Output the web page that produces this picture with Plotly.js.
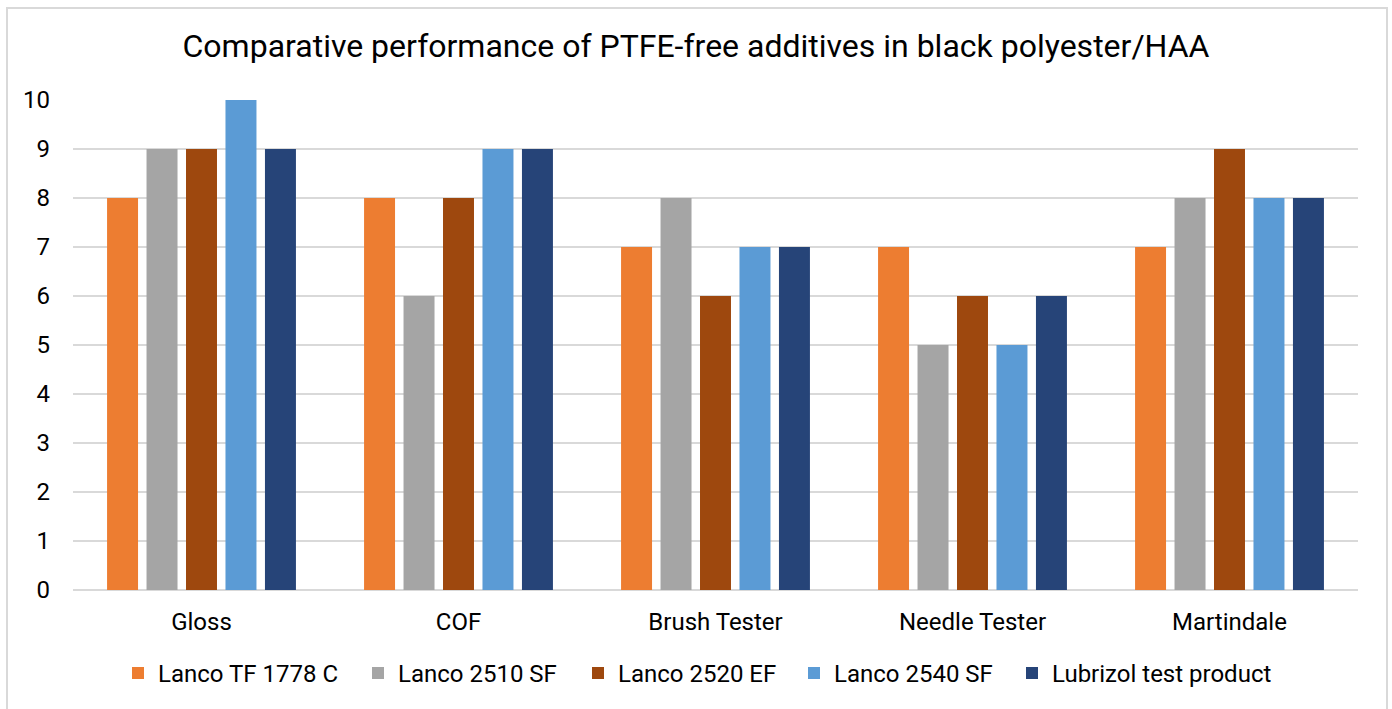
<!DOCTYPE html>
<html><head><meta charset="utf-8">
<script src="https://cdn.plot.ly/plotly-3.0.1.min.js"></script>
<style>html,body{margin:0;padding:0;background:#fff;overflow:hidden}#wrap{position:relative;width:1392px;height:709px}#chart{width:1392px;height:709px}#frame{position:absolute;left:6px;top:7px;width:1378px;height:720px;border:2px solid #d9d9d9;pointer-events:none}</style>
</head><body>
<div id="wrap"><div id="chart"></div><div id="frame"></div></div>
<script>
const categories = ["Gloss", "COF", "Brush Tester", "Needle Tester", "Martindale"];
const seriesNames = ["Lanco TF 1778 C", "Lanco 2510 SF", "Lanco 2520 EF", "Lanco 2540 SF", "Lubrizol test product"];
const lancoTF1778C = [8, 8, 7, 7, 7];
const lanco2510SF = [9, 6, 8, 5, 8];
const lanco2520EF = [9, 8, 6, 6, 9];
const lanco2540SF = [10, 9, 7, 5, 8];
const lubrizolTest = [9, 9, 7, 6, 8];
const yTicks = [0,1,2,3,4,5,6,7,8,9,10];

const colors = ["#ED7D31", "#A5A5A5", "#9E480E", "#5B9BD5", "#264478"];
const values = [lancoTF1778C, lanco2510SF, lanco2520EF, lanco2540SF, lubrizolTest];
const legendIds = ['legend', 'legend2', 'legend3', 'legend4', 'legend5'];
const legendSymbolLeftPx = [132, 372, 592, 808, 1026];
const plotLeft = 73, plotWidth = 1392 - 73 - 34;

const traces = values.map((v, i) => ({
  type: 'bar', x: categories, y: v, name: seriesNames[i], legend: legendIds[i],
  marker: {color: colors[i], line: {width: 0}}, hoverinfo: 'x+y+name'
}));
const layout = {
  width: 1392, height: 709,
  margin: {l: 73, r: 34, t: 100, b: 119, pad: 0},
  paper_bgcolor: '#fff', plot_bgcolor: '#fff',
  font: {family: 'Roboto, sans-serif', color: '#000', size: 24},
  title: {text: 'Comparative performance of PTFE-free additives in black polyester/HAA', font: {size: 32, color: '#000'}, x: 0.5, xanchor: 'center', y: 0.935, yanchor: 'middle'},
  barmode: 'group', bargap: 0.232, bargroupgap: 0.215,
  xaxis: {type: 'category', showgrid: false, zeroline: false, showline: false, ticks: '', ticklabelstandoff: 15, tickfont: {size: 24}},
  yaxis: {range: [0, 10], tickvals: yTicks, ticktext: yTicks.map(String), showgrid: true, gridcolor: '#d9d9d9', gridwidth: 2, zeroline: true, zerolinecolor: '#d9d9d9', zerolinewidth: 2, showline: false, ticks: '', ticklabelstandoff: 22, tickfont: {size: 24}},
  showlegend: true
};
legendIds.forEach((id, i) => {
  layout[id] = {orientation: 'h', x: (legendSymbolLeftPx[i] - 14 - plotLeft) / plotWidth, xanchor: 'left', y: -0.17, yanchor: 'middle', font: {size: 24}, bgcolor: 'rgba(0,0,0,0)'};
});
Plotly.newPlot('chart', traces, layout, {staticPlot: true, displayModeBar: false});
</script>
</body></html>
